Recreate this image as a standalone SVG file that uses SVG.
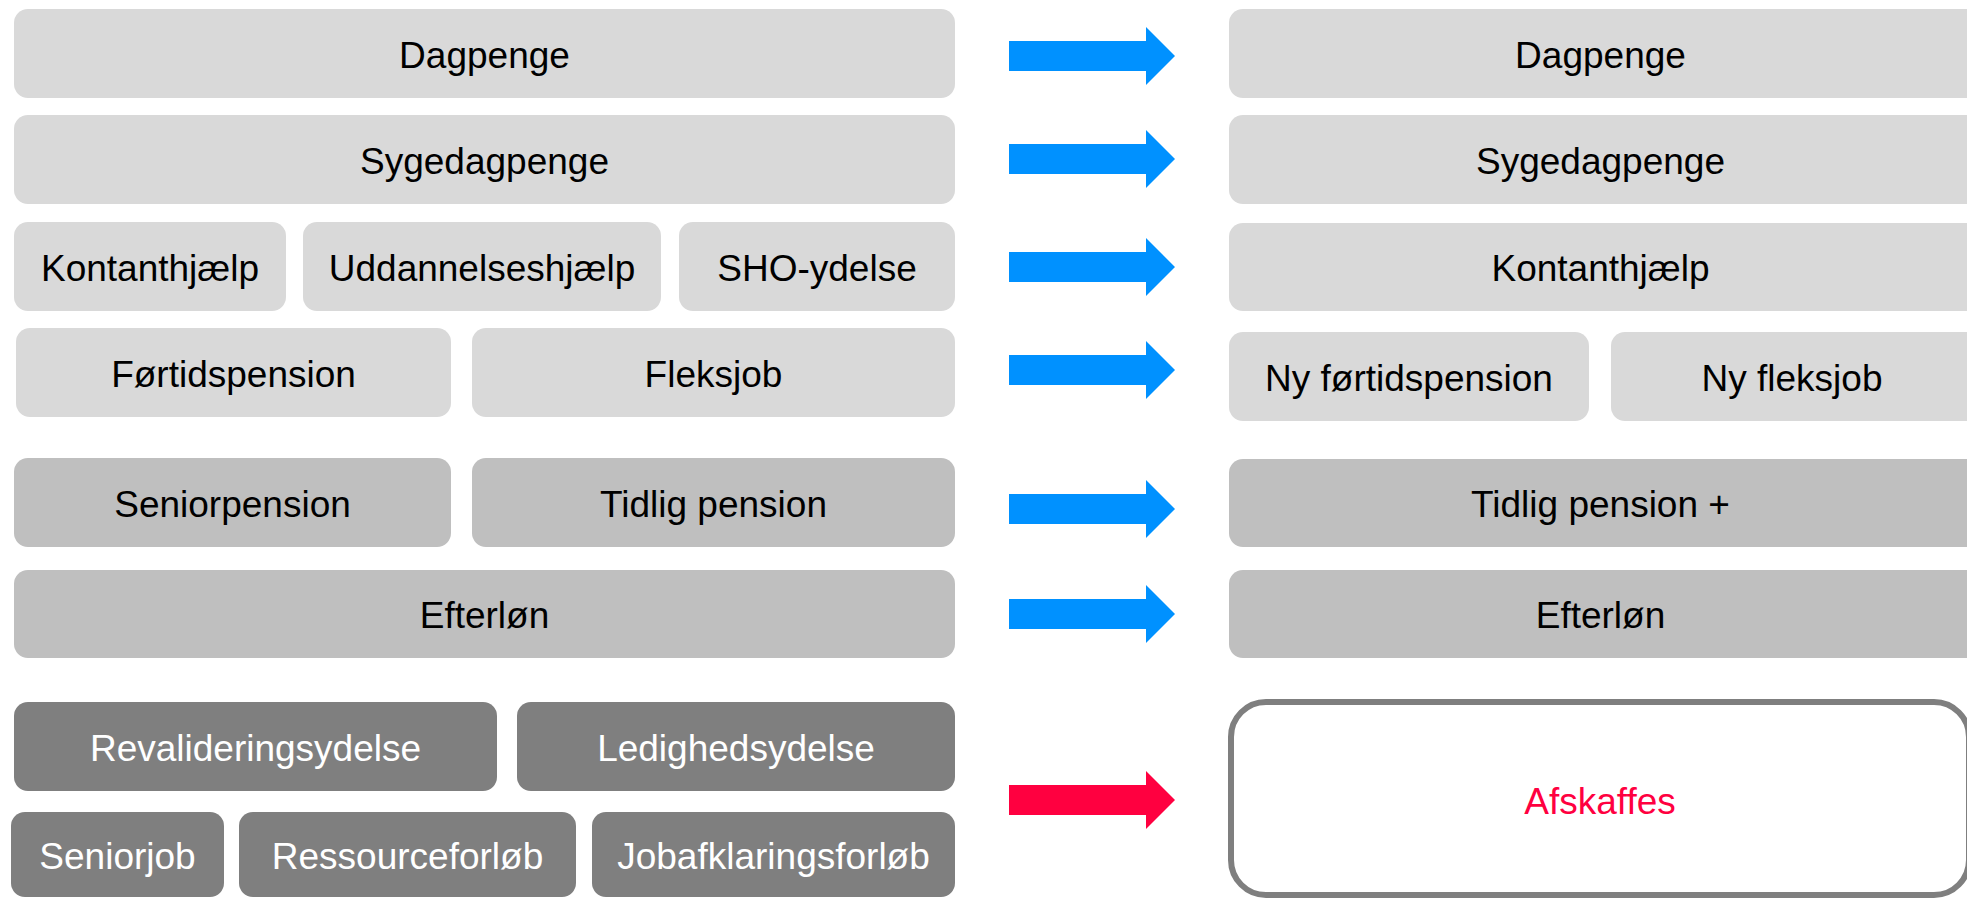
<svg xmlns="http://www.w3.org/2000/svg" xmlns:xlink="http://www.w3.org/1999/xlink" width="1967" height="898" viewBox="0 0 1967 898">
  <style>
    .l1 { fill: #D9D9D9; }
    .l2 { fill: #BFBFBF; }
    .l3 { fill: #7F7F7F; }
    text { font-family: "Liberation Sans", Arial, sans-serif; font-size: 37px; text-anchor: middle; fill: #000000; }
    .w { fill: #FFFFFF; }
    .red { fill: #FF0040; }
    .blue { fill: #0091FF; }
    .redarrow { fill: #FF0040; }
  </style>
  <defs>
    <path id="arrow" d="M1009,-15 H1146 V-29 L1175,0 L1146,29 V15 H1009 Z"/>
  </defs>
  <rect width="1967" height="898" fill="#FFFFFF"/>

  <!-- Left column -->
  <g id="l-dagpenge"><rect class="l1" x="14" y="9" width="941" height="89" rx="14"/><text x="484.5" y="67.5">Dagpenge</text></g>
  <g id="l-sygedagpenge"><rect class="l1" x="14" y="115" width="941" height="89" rx="14"/><text x="484.5" y="173.5">Sygedagpenge</text></g>
  <g id="l-kontanthjaelp"><rect class="l1" x="14" y="222" width="272" height="89" rx="14"/><text x="150" y="280.5">Kontanthjælp</text></g>
  <g id="l-uddannelseshjaelp"><rect class="l1" x="303" y="222" width="358" height="89" rx="14"/><text x="482" y="280.5">Uddannelseshjælp</text></g>
  <g id="l-sho"><rect class="l1" x="679" y="222" width="276" height="89" rx="14"/><text x="817" y="280.5">SHO-ydelse</text></g>
  <g id="l-fortidspension"><rect class="l1" x="16" y="328" width="435" height="89" rx="14"/><text x="233.5" y="386.5">Førtidspension</text></g>
  <g id="l-fleksjob"><rect class="l1" x="472" y="328" width="483" height="89" rx="14"/><text x="713.5" y="386.5">Fleksjob</text></g>
  <g id="l-seniorpension"><rect class="l2" x="14" y="458" width="437" height="89" rx="14"/><text x="232.5" y="516.5">Seniorpension</text></g>
  <g id="l-tidligpension"><rect class="l2" x="472" y="458" width="483" height="89" rx="14"/><text x="713.5" y="516.5">Tidlig pension</text></g>
  <g id="l-efterlon"><rect class="l2" x="14" y="570" width="941" height="88" rx="14"/><text x="484.5" y="628">Efterløn</text></g>
  <g id="l-revalidering"><rect class="l3" x="14" y="702" width="483" height="89" rx="14"/><text class="w" x="255.5" y="760.5">Revalideringsydelse</text></g>
  <g id="l-ledighed"><rect class="l3" x="517" y="702" width="438" height="89" rx="14"/><text class="w" x="736" y="760.5">Ledighedsydelse</text></g>
  <g id="l-seniorjob"><rect class="l3" x="11" y="812" width="213" height="85" rx="14"/><text class="w" x="117.5" y="869">Seniorjob</text></g>
  <g id="l-ressource"><rect class="l3" x="239" y="812" width="337" height="85" rx="14"/><text class="w" x="407.5" y="869">Ressourceforløb</text></g>
  <g id="l-jobafklaring"><rect class="l3" x="592" y="812" width="363" height="85" rx="14"/><text class="w" x="773.5" y="869">Jobafklaringsforløb</text></g>

  <!-- Right column -->
  <g id="r-dagpenge"><rect class="l1" x="1229" y="9" width="761" height="89" rx="14"/><text x="1600.5" y="67.5">Dagpenge</text></g>
  <g id="r-sygedagpenge"><rect class="l1" x="1229" y="115" width="761" height="89" rx="14"/><text x="1600.5" y="173.5">Sygedagpenge</text></g>
  <g id="r-kontanthjaelp"><rect class="l1" x="1229" y="223" width="761" height="88" rx="14"/><text x="1600.5" y="281">Kontanthjælp</text></g>
  <g id="r-nyfortid"><rect class="l1" x="1229" y="332" width="360" height="89" rx="14"/><text x="1409" y="390.5">Ny førtidspension</text></g>
  <g id="r-nyfleks"><rect class="l1" x="1611" y="332" width="379" height="89" rx="14"/><text x="1792" y="390.5">Ny fleksjob</text></g>
  <g id="r-tidligpension"><rect class="l2" x="1229" y="459" width="761" height="88" rx="14"/><text x="1600.5" y="517">Tidlig pension +</text></g>
  <g id="r-efterlon"><rect class="l2" x="1229" y="570" width="761" height="88" rx="14"/><text x="1600.5" y="628">Efterløn</text></g>
  <g id="r-afskaffes"><rect x="1231" y="702" width="738" height="193" rx="35" fill="#FFFFFF" stroke="#7F7F7F" stroke-width="6"/><text class="red" x="1600" y="814">Afskaffes</text></g>

  <!-- Connectors -->
  <g id="connectors">
    <use xlink:href="#arrow" href="#arrow" class="blue" transform="translate(0,56)"/>
    <use xlink:href="#arrow" href="#arrow" class="blue" transform="translate(0,159)"/>
    <use xlink:href="#arrow" href="#arrow" class="blue" transform="translate(0,267)"/>
    <use xlink:href="#arrow" href="#arrow" class="blue" transform="translate(0,370)"/>
    <use xlink:href="#arrow" href="#arrow" class="blue" transform="translate(0,509)"/>
    <use xlink:href="#arrow" href="#arrow" class="blue" transform="translate(0,614)"/>
    <use xlink:href="#arrow" href="#arrow" class="redarrow" transform="translate(0,800)"/>
  </g>
</svg>
